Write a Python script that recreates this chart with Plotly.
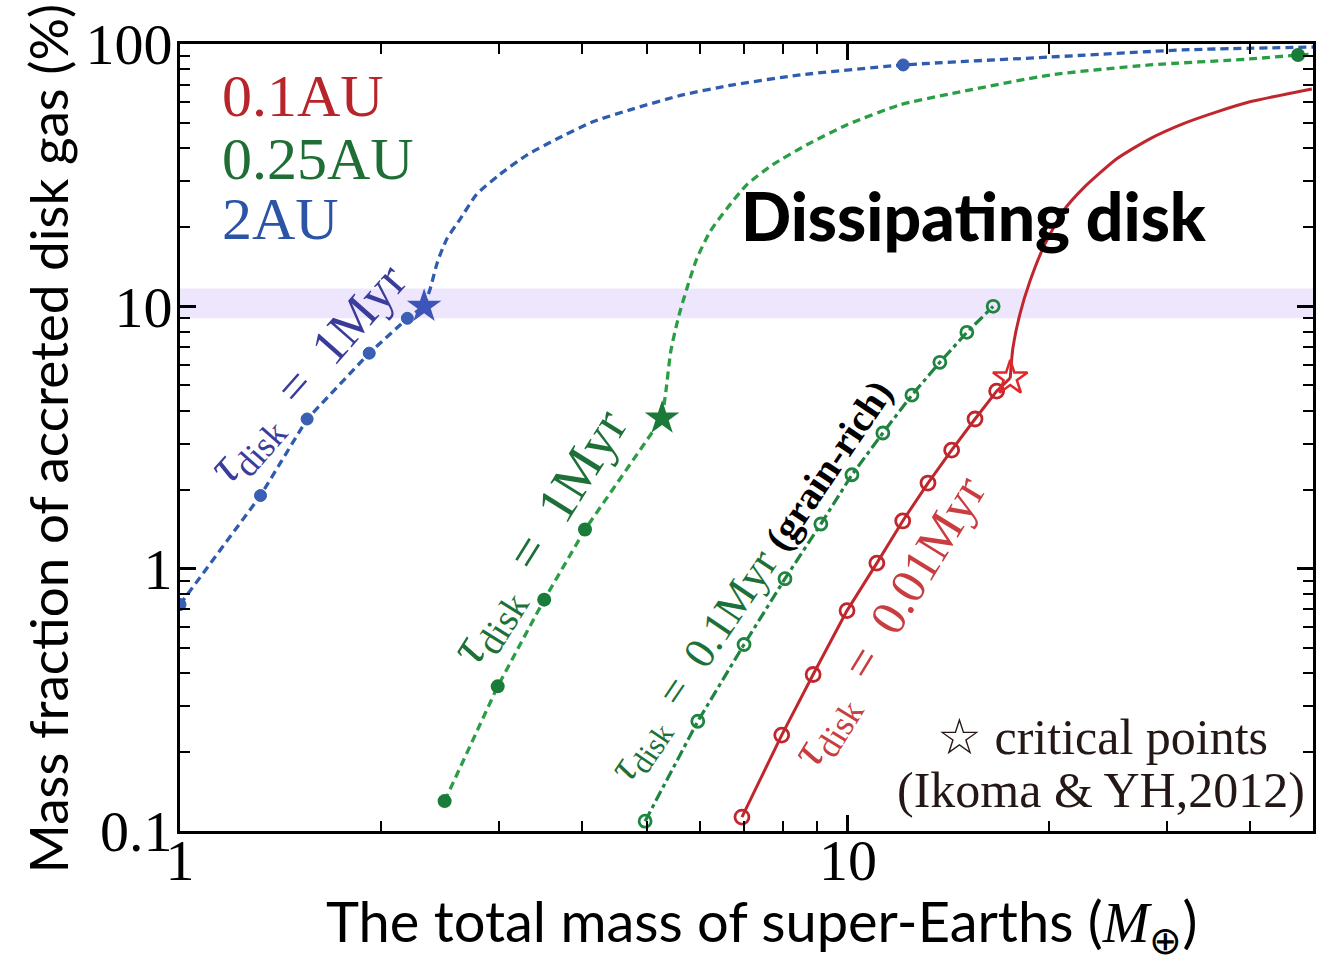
import numpy as np
import plotly.graph_objects as go

# ---------------- data ----------------
# 2 AU, tau_disk = 1 Myr
au2_x = [1.00, 1.32, 1.55, 1.92, 2.19]
au2_y = [0.73, 1.90, 3.72, 6.63, 9.0]
au2_crit_x = [2.32]
au2_crit_y = [10.0]
au2_curve_x = [2.32, 2.37, 2.43, 2.51, 2.63, 2.78, 3.01, 3.31, 3.67, 4.15, 4.77,
               5.66, 6.73, 8.48, 12.1, 20.1, 31.7, 49.7]
au2_curve_y = [10.0, 11.7, 14.8, 18.1, 21.6, 26.7, 31.8, 37.8, 43.5, 50.5, 56.6,
               64.0, 69.9, 76.2, 83.2, 89.2, 94.9, 97.4]
au2_late_x = [12.1]
au2_late_y = [83.2]

# 0.25 AU, tau_disk = 1 Myr
g1_x = [2.49, 2.99, 3.51, 4.04]
g1_y = [0.130, 0.356, 0.762, 1.41]
g1_crit_x = [5.27]
g1_crit_y = [3.75]
g1_curve_x = [5.27, 5.34, 5.43, 5.57, 5.74, 5.94, 6.22, 6.59, 7.06, 7.72, 8.68,
              9.97, 11.96, 14.2, 20.1, 28.3, 40.0, 47.2, 49.7]
g1_curve_y = [3.75, 4.75, 6.74, 9.0, 11.7, 15.2, 19.3, 23.6, 29.1, 34.7, 41.3,
              49.2, 58.6, 64.5, 76.2, 83.2, 87.7, 90.8, 91.5]
g1_late_x = [47.2]
g1_late_y = [90.8]

# 0.25 AU, tau_disk = 0.1 Myr (grain-rich)
g01_x = [4.97, 5.96, 6.99, 8.05, 9.11, 10.14, 11.28, 12.47, 13.73, 15.07, 16.5]
g01_y = [0.109, 0.262, 0.514, 0.916, 1.48, 2.28, 3.29, 4.59, 6.12, 7.96, 10.0]

# 0.1 AU, tau_disk = 0.01 Myr
r_x = [6.94, 7.96, 8.87, 9.97, 11.05, 12.08, 13.18, 14.3, 15.5, 16.7]
r_y = [0.113, 0.232, 0.395, 0.692, 1.05, 1.52, 2.12, 2.83, 3.72, 4.75]
r_crit_x = [17.5]
r_crit_y = [5.33]
r_curve_x = [17.5, 17.66, 18.09, 18.73, 19.59, 20.98, 22.48, 25.27, 28.32, 31.73,
             35.68, 39.98, 49.5]
r_curve_y = [5.33, 6.92, 9.32, 12.45, 16.62, 22.97, 28.1, 36.5, 43.5, 49.6,
             55.1, 60.2, 67.4]

# shaded band around 10%
band_x = [1.0, 49.7, 49.7, 1.0]
band_y = [9.0, 9.0, 11.7, 11.7]

x_major = [1, 10]
x_major_text = ["1", "10"]
x_minor = [2, 3, 4, 5, 6, 7, 8, 9, 20, 30, 40]
y_major = [0.1, 1, 10, 100]
y_major_text = ["0.1", "1", "10", "100"]
y_minor = [0.2, 0.3, 0.4, 0.5, 0.6, 0.7, 0.8, 0.9, 2, 3, 4, 5, 6, 7, 8, 9,
           20, 30, 40, 50, 60, 70, 80, 90]

# ---------------- styles ----------------
SERIF = "Liberation Serif, Times New Roman, serif"
SANS_N = "Lato, Roboto, sans-serif"
BLUE_L = "#2F5CAE"
BLUE_M = "#3C5FB6"
GREEN_L = "#2A9E45"
GREEN_M = "#1A7C3A"
GREEN_O = "#1F8440"
RED_L = "#C0272D"
RED_S = "#E3262A"
SP = "\u2002"  # en space (math-like spacing around '=')

fig = go.Figure()

fig.add_trace(go.Scatter(x=band_x, y=band_y, fill="toself", mode="lines",
                         line=dict(width=0), fillcolor="#EDE6FD",
                         hoverinfo="skip", showlegend=False))

# blue
fig.add_trace(go.Scatter(x=au2_x + au2_crit_x, y=au2_y + au2_crit_y, mode="lines",
                         line=dict(color=BLUE_L, width=3.3, dash="8px,5px"),
                         showlegend=False))
fig.add_trace(go.Scatter(x=au2_curve_x, y=au2_curve_y, mode="lines",
                         line=dict(color=BLUE_L, width=3.3, dash="8px,5px",
                                   shape="spline", smoothing=0.6),
                         showlegend=False))
fig.add_trace(go.Scatter(x=au2_x + au2_late_x, y=au2_y + au2_late_y, mode="markers",
                         marker=dict(color=BLUE_M, size=12, line=dict(color=BLUE_L, width=1)),
                         showlegend=False))
fig.add_trace(go.Scatter(x=au2_crit_x, y=au2_crit_y, mode="markers",
                         marker=dict(symbol="star", color="#3D55B8", size=26),
                         showlegend=False))

# green 1 Myr
fig.add_trace(go.Scatter(x=g1_x + g1_crit_x, y=g1_y + g1_crit_y, mode="lines",
                         line=dict(color=GREEN_L, width=3.3, dash="8px,5px"),
                         showlegend=False))
fig.add_trace(go.Scatter(x=g1_curve_x, y=g1_curve_y, mode="lines",
                         line=dict(color=GREEN_L, width=3.3, dash="8px,5px",
                                   shape="spline", smoothing=0.6),
                         showlegend=False))
fig.add_trace(go.Scatter(x=g1_x + g1_late_x, y=g1_y + g1_late_y, mode="markers",
                         marker=dict(color=GREEN_M, size=14),
                         showlegend=False))
fig.add_trace(go.Scatter(x=g1_crit_x, y=g1_crit_y, mode="markers",
                         marker=dict(symbol="star", color="#1C7A38", size=26),
                         showlegend=False))

# green 0.1 Myr grain-rich
fig.add_trace(go.Scatter(x=g01_x, y=g01_y, mode="lines+markers",
                         line=dict(color=GREEN_O, width=3.2, dash="11px,4px,4px,4px"),
                         marker=dict(symbol="circle-open", color=GREEN_O, size=12,
                                     line=dict(width=2.8)),
                         showlegend=False))

# red
fig.add_trace(go.Scatter(x=r_x + r_crit_x, y=r_y + r_crit_y, mode="lines",
                         line=dict(color=RED_L, width=3), showlegend=False))
fig.add_trace(go.Scatter(x=r_curve_x, y=r_curve_y, mode="lines",
                         line=dict(color=RED_L, width=3, shape="spline", smoothing=0.6),
                         showlegend=False))
fig.add_trace(go.Scatter(x=r_x, y=r_y, mode="markers",
                         marker=dict(symbol="circle-open", color=RED_L, size=14,
                                     line=dict(width=2.8)),
                         showlegend=False))
fig.add_trace(go.Scatter(x=r_crit_x, y=r_crit_y, mode="markers",
                         marker=dict(symbol="star-open", color=RED_S, size=26,
                                     line=dict(width=2.5)),
                         showlegend=False))

axis_common = dict(type="log", showline=True, linewidth=3, linecolor="black",
                   mirror="ticks", ticks="inside", ticklen=16, tickwidth=2.5,
                   tickcolor="black", tickmode="array", showgrid=False,
                   zeroline=False,
                   tickfont=dict(family=SERIF, size=58, color="black"))

fig.update_layout(
    width=1334, height=961,
    margin=dict(l=180, r=21, t=42, b=130),
    paper_bgcolor="white", plot_bgcolor="white",
    xaxis=dict(axis_common, range=[np.log10(1), np.log10(49.7)],
               tickvals=x_major, ticktext=x_major_text, ticklabelstandoff=-24,
               minor=dict(tickmode="array", tickvals=x_minor, ticks="inside",
                          ticklen=10, tickwidth=2, tickcolor="black", showgrid=False)),
    yaxis=dict(axis_common, range=[np.log10(0.1), np.log10(100)],
               tickvals=y_major, ticktext=y_major_text, ticklabelstandoff=-7,
               minor=dict(tickmode="array", tickvals=y_minor, ticks="inside",
                          ticklen=10, tickwidth=2, tickcolor="black", showgrid=False)),
)

ann = []
def A(text, x, y, size, color, family=SERIF, angle=0, xanchor="center",
      yanchor="middle", weight=None):
    f = dict(family=family, size=size, color=color)
    if weight:
        f["weight"] = weight
    ann.append(dict(text=text, x=x, y=y, xref="paper", yref="paper", showarrow=False,
                    textangle=angle, xanchor=xanchor, yanchor=yanchor, font=f))

A("0.1AU", 0.0353, 0.934, 60, "#B7252B", xanchor="left")
A("0.25AU", 0.0353, 0.854, 60, "#1E6E35", xanchor="left")
A("2AU", 0.0353, 0.778, 60, "#2B53A6", xanchor="left")
A("Dissipating disk", 0.7008, 0.782, 66, "black", family="Lato, Roboto, sans-serif",
  weight=900)

A(f"<i>τ</i><sub>disk</sub>{SP}={SP}1Myr", 0.1147, 0.579, 51, "#3A3C9C", angle=-48.6)
A(f"<i>τ</i><sub>disk</sub>{SP}={SP}1Myr", 0.3186, 0.3726, 54, "#1D7038", angle=-58)
A(f"<i>τ</i><sub>disk</sub>{SP}={SP}0.1Myr <b><span style='color:black;font-size:39px'>(grain-rich)</span></b>",
  0.5057, 0.318, 44, "#1D7038", angle=-56)
A(f"<i>τ</i><sub>disk</sub>{SP}={SP}0.01Myr", 0.6267, 0.2649, 50, "#C93D40", angle=-58.6)

A("☆ critical points", 0.962, 0.119, 50, "#231815", xanchor="right")
A("(Ikoma &amp; YH,2012)", 0.9947, 0.052, 50, "#231815", xanchor="right")

A("The total mass of super-Earths (<span style='font-family:Liberation Serif'><i>M</i><sub>⊕</sub></span>)",
  0.5128, -0.119, 56, "black", family=SANS_N)
A("Mass fraction of accreted disk gas (%)", -0.1174, 0.499, 53, "black",
  family=SANS_N, angle=-90)

fig.update_layout(annotations=ann)
fig.write_html("out.html")
